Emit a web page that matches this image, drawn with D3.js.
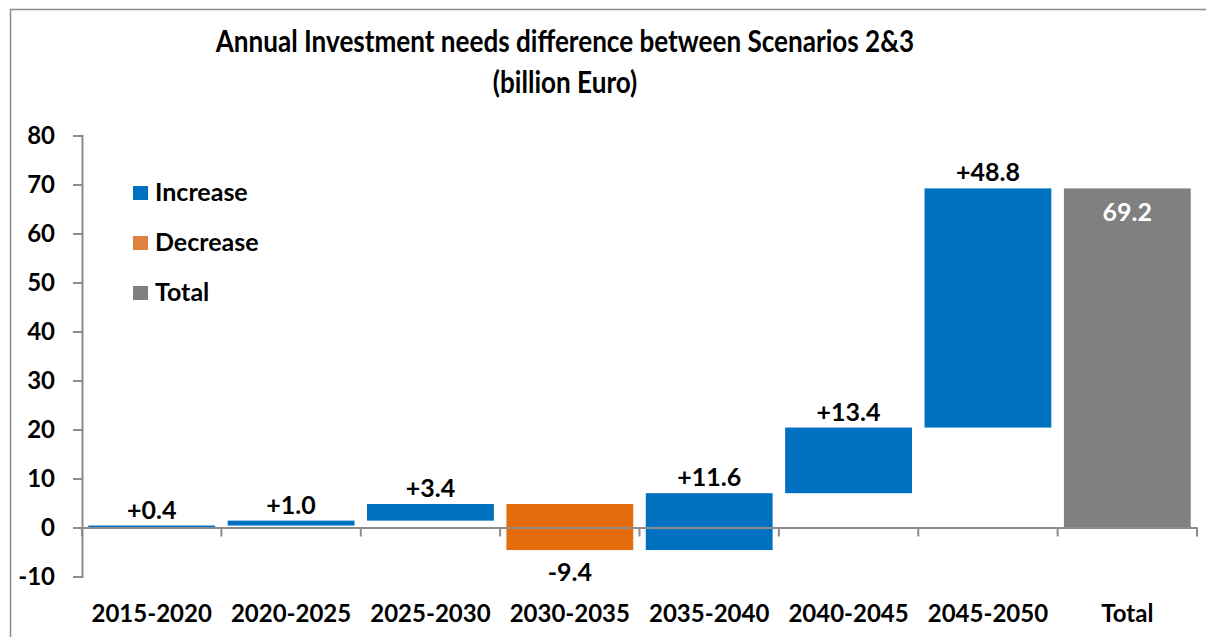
<!DOCTYPE html>
<html>
<head>
<meta charset="utf-8">
<script src="https://cdn.jsdelivr.net/npm/d3@7"></script>
<style>
  html, body { margin: 0; padding: 0; background: #fff; }
  svg { display: block; font-family: Lato, "Open Sans", sans-serif; font-weight: 700; }
</style>
</head>
<body>
<svg id="chart" width="1206" height="637"></svg>
<script>
// Waterfall: annual investment needs difference between scenarios 2 & 3
const categories = ["2015-2020", "2020-2025", "2025-2030", "2030-2035", "2035-2040", "2040-2045", "2045-2050", "Total"];
const changes = [0.4, 1.0, 3.4, -9.4, 11.6, 13.4, 48.8];
const totalValue = 69.2;
const yTicks = [-10, 0, 10, 20, 30, 40, 50, 60, 70, 80];
const legendItems = ["Increase", "Decrease", "Total"];
const titleLines = ["Annual Investment needs difference between Scenarios 2&3", "(billion Euro)"];

const colors = { Increase: "#0070C0", Decrease: "#E46C0A", Total: "#808080" };
const legendColors = { Increase: "#0070C0", Decrease: "#DE833F", Total: "#808080" };

// plain hyphen for negative numbers
const locale = d3.formatLocale({ decimal: ".", thousands: ",", grouping: [3], currency: ["", ""], minus: "-" });
const fmtInt = locale.format("d");
const fmt1 = locale.format(".1f");

// build floating segments from running total
let running = 0;
const bars = changes.map((d, i) => {
  const start = running;
  running += d;
  return { cat: categories[i], start, end: running, value: d, type: d >= 0 ? "Increase" : "Decrease" };
});
bars.push({ cat: "Total", start: 0, end: totalValue, value: totalValue, type: "Total" });

const svg = d3.select("#chart");

// outer frame
svg.append("rect")
  .attr("x", 10.5).attr("y", 9.5)
  .attr("width", 1206).attr("height", 700)
  .attr("fill", "none").attr("stroke", "#8c8c8c").attr("stroke-width", 1.5);

const x = d3.scaleBand()
  .domain(categories)
  .range([82, 1197])
  .paddingInner(0.09)
  .paddingOuter(0.045);

const y = d3.scaleLinear().domain([-10, 80]).range([576.5, 135.5]);

// title: tall, slightly condensed lettering
const titleScaleX = 0.87;
svg.append("g")
  .attr("transform", `translate(565,0) scale(${titleScaleX},1)`)
  .selectAll("text")
  .data(titleLines)
  .join("text")
  .attr("x", 0)
  .attr("y", (d, i) => 52 + i * 41)
  .attr("text-anchor", "middle")
  .attr("font-size", 30)
  .attr("fill", "#000")
  .text(d => d);

// bars
svg.append("g").selectAll("rect")
  .data(bars)
  .join("rect")
  .attr("x", d => x(d.cat))
  .attr("width", x.bandwidth())
  .attr("y", d => y(Math.max(d.start, d.end)))
  .attr("height", d => Math.abs(y(d.start) - y(d.end)))
  .attr("fill", d => colors[d.type]);

// y axis
const yAxis = svg.append("g")
  .attr("transform", `translate(${82},0)`)
  .call(d3.axisLeft(y).tickValues(yTicks).tickSize(9).tickPadding(18).tickFormat(fmtInt));
yAxis.select(".domain").attr("stroke", "#8c8c8c").attr("stroke-width", 2);
yAxis.selectAll(".tick line").attr("stroke", "#8c8c8c").attr("stroke-width", 2);
yAxis.selectAll("text").attr("font-size", 24).attr("font-family", "Lato, sans-serif").attr("font-weight", 700).attr("fill", "#000");

// x axis along zero, drawn over the bars
const xAxis = svg.append("g")
  .attr("transform", `translate(0,${y(0)})`)
  .call(d3.axisBottom(x).tickSize(0).tickFormat(""));
xAxis.select(".domain").attr("stroke", "#8c8c8c").attr("stroke-width", 2);
xAxis.selectAll(".tick").remove();
// category separators
const step = x.step();
svg.append("g").selectAll("line")
  .data(d3.range(categories.length + 1))
  .join("line")
  .attr("x1", i => 82 + i * step)
  .attr("x2", i => 82 + i * step)
  .attr("y1", y(0))
  .attr("y2", y(0) + 9)
  .attr("stroke", "#8c8c8c")
  .attr("stroke-width", 2);

// category labels
svg.append("g").selectAll("text")
  .data(categories)
  .join("text")
  .attr("x", d => x(d) + x.bandwidth() / 2)
  .attr("y", 622)
  .attr("text-anchor", "middle")
  .attr("font-size", 24)
  .attr("fill", "#000")
  .text(d => d);

// value labels
svg.append("g").selectAll("text")
  .data(bars)
  .join("text")
  .attr("x", d => x(d.cat) + x.bandwidth() / 2)
  .attr("y", d => {
    if (d.type === "Total") return y(d.end) + 33;
    if (d.type === "Decrease") return y(d.end) + 31;
    return y(d.end) - 7;
  })
  .attr("text-anchor", "middle")
  .attr("font-size", 25)
  .attr("fill", d => d.type === "Total" ? "#fff" : "#000")
  .text(d => d.type === "Total" ? fmt1(d.value) : (d.value > 0 ? "+" : "") + fmt1(d.value));

// legend
const legend = svg.append("g").selectAll("g")
  .data(legendItems)
  .join("g")
  .attr("transform", (d, i) => `translate(133,${186 + i * 50})`);
legend.append("rect")
  .attr("width", 15).attr("height", 14)
  .attr("fill", d => legendColors[d]);
legend.append("text")
  .attr("x", 22).attr("y", 15)
  .attr("font-size", 25)
  .attr("fill", "#000")
  .text(d => d);
</script>
</body>
</html>
